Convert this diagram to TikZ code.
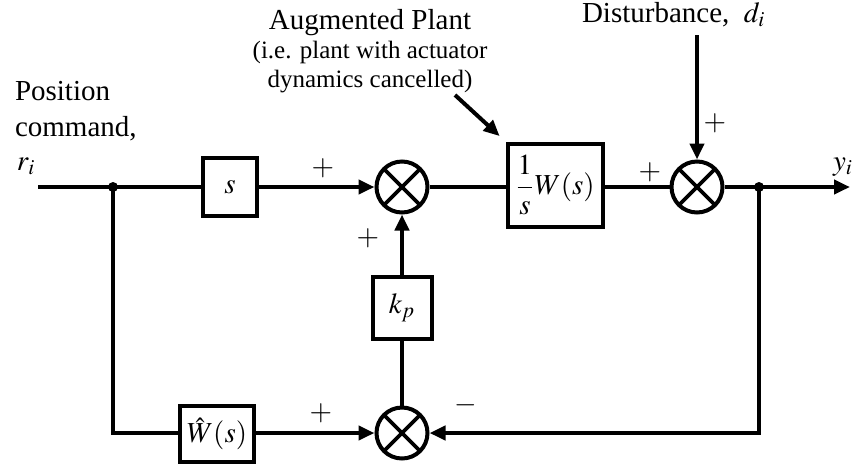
\documentclass[tikz,border=0pt]{standalone}
\usepackage{amsmath}
\usepackage{mathptmx}
\usepackage{fontspec}
\setmainfont{Liberation Serif}
\usetikzlibrary{arrows.meta, positioning, calc}

\begin{document}
\begin{tikzpicture}[
  x=0.5pt, y=-0.5pt,
  line width=2pt,
  font=\fontsize{14.5}{18}\selectfont,
  blk/.style={draw, line width=2pt, inner sep=0pt},
  sumj/.style={draw, circle, minimum size=25.5pt, inner sep=0pt,
    path picture={\draw[line width=1.8pt]
      (path picture bounding box.north west) -- (path picture bounding box.south east)
      (path picture bounding box.north east) -- (path picture bounding box.south west);}},
  arrow/.style={-{Triangle[length=8pt,width=7pt]}},
  sgn/.style={inner sep=0pt}
]
  \useasboundingbox (0,0) rectangle (860,467);

  % forward path
  \coordinate (in) at (38,187);
  \coordinate (j1) at (113,187);
  \node[blk, minimum width=27pt, minimum height=29pt] (sblk) at (230,187) {$s$};
  \node[sumj] (sum1) at (402,187) {};
  \node[blk, minimum width=47.5pt, minimum height=41.5pt] (plant) at (555,185) {$\dfrac{1}{s}W(s)$};
  \node[sumj] (sum2) at (697,187) {};
  \coordinate (j2) at (759,187);
  \coordinate (out) at (850,187);
  \coordinate (dist) at (697,35);

  % inner loop
  \node[blk, minimum width=29.5pt, minimum height=31pt] (kp) at (402,308) {$k_p$};
  \node[sumj] (sum3) at (402,433) {};
  \node[blk, minimum width=37pt, minimum height=28pt] (what) at (217,434) {$\hat{W}(s)$};

  \draw (in) -- (j1) -- (sblk);
  \draw[arrow] (sblk) -- (sum1);
  \draw (sum1) -- (plant.west |- sum1);
  \draw (plant.east |- sum2) -- (sum2);
  \draw (sum2) -- (j2);
  \draw[arrow] (j2) -- (out);
  \draw[arrow] (dist) -- (sum2);
  \draw[arrow] (kp) -- (sum1);
  \draw (sum3) -- (kp);
  \draw (j1) |- (what.west |- sum3);
  \draw[arrow] (what.east |- sum3) -- (sum3);
  \draw[arrow] (j2) |- (sum3);
  \fill (j1) circle (2.5pt);
  \fill (j2) circle (2.5pt);

  % labels
  \node[anchor=north west, align=left, inner sep=0pt] (poslbl) at (13,79) {Position\\command,};
  \node[anchor=base west, inner sep=0pt] (rlbl) at (15,170) {$r_i$};
  \node[anchor=north, align=center, inner sep=0pt, font=\fontsize{12.5}{14.5}\selectfont] (auglbl) at (370,7)
    {{\fontsize{14.5}{14.5}\selectfont Augmented Plant}\\(i.e. plant with actuator\\dynamics cancelled)};
  \coordinate (augtail) at (455,95);
  \draw[arrow, shorten >=4pt] (augtail) -- (plant.north west);
  \node[anchor=base west, inner sep=0pt] (distlbl) at (580,22) {Disturbance,\ \ $d_i$};
  \node[anchor=base, inner sep=0pt] (ylbl) at (843,170) {$y_i$};

  % signs
  \node[sgn] (p1) at (323,168) {$+$};
  \node[sgn] (p2) at (368,238) {$+$};
  \node[sgn] (p3) at (650,172) {$+$};
  \node[sgn] (p4) at (715,123) {$+$};
  \node[sgn] (p5) at (321,413) {$+$};
  \node[sgn] (m1) at (466,405) {$-$};
\end{tikzpicture}
\end{document}
